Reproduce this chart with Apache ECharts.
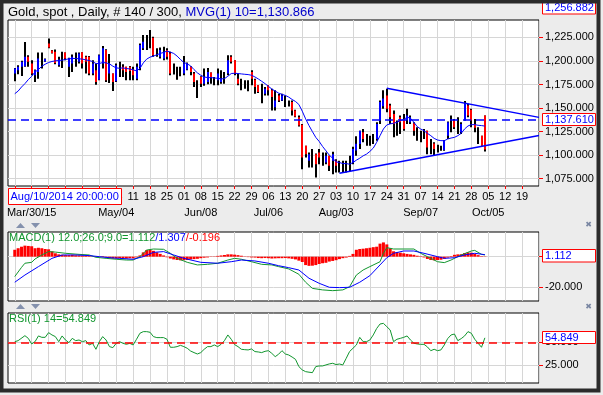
<!DOCTYPE html>
<html><head><meta charset="utf-8">
<script src="https://cdn.jsdelivr.net/npm/echarts@6/dist/echarts.min.js"></script>
<style>html,body{margin:0;padding:0;background:#ececec;}#c{width:603px;height:395px;}</style>
</head><body><div id="c"></div>
<script>
// ---------- categories: trading days (weekdays) ----------
const firstDay = '2015-03-19';
const slotCount = 158;
const categories = [];
(function () {
  const d = new Date(firstDay + 'T00:00:00Z');
  while (categories.length < slotCount) {
    const w = d.getUTCDay();
    if (w !== 0 && w !== 6) categories.push(d.toISOString().slice(0, 10));
    d.setUTCDate(d.getUTCDate() + 1);
  }
})();
const barStart = 2; // index of first bar (2015-03-23)

// ---------- price bars ----------
const barOpen = [1186.6,1190.1,1193.7,1194.4,1204.4,1197.2,1184.8,1188.3,1201.0,1199.5,1218.6,1211.0,1209.7,1195.5,1201.0,1209.0,1193.7,1197.2,1200.0,1199.0,1209.3,1204.4,1204.4,1186.6,1190.1,1180.1,1197.2,1211.5,1186.6,1186.6,1178.4,1191.0,1193.7,1193.7,1193.7,1190.8,1181.2,1193.7,1213.3,1219.0,1220.0,1224.5,1209.0,1204.4,1202.6,1211.5,1207.9,1190.0,1188.0,1189.0,1186.6,1191.0,1193.7,1186.6,1176.0,1183.0,1175.9,1177.7,1187.6,1179.0,1179.4,1177.7,1180.0,1186.6,1204.4,1200.8,1181.2,1176.0,1175.0,1174.0,1188.3,1180.1,1174.1,1168.0,1165.2,1174.1,1168.8,1150.9,1163.4,1158.0,1157.0,1155.0,1156.3,1147.4,1140.3,1132.4,1110.0,1094.0,1097.0,1101.1,1102.9,1096.0,1092.2,1099.3,1094.0,1094.0,1090.0,1090.0,1088.0,1092.0,1092.2,1105.0,1111.8,1124.3,1117.0,1115.0,1116.0,1117.1,1136.7,1152.0,1163.4,1152.7,1143.8,1130.0,1140.3,1138.5,1136.7,1134.9,1133.9,1123.0,1120.0,1122.0,1126.0,1108.0,1112.5,1106.0,1107.0,1105.4,1120.7,1130.0,1136.7,1131.0,1124.3,1136.7,1152.7,1148.1,1133.0,1120.0,1120.7,1142.0];
const barHigh = [1192.6,1195.5,1200.1,1220.0,1206.1,1200.8,1190.8,1209.0,1209.0,1202.6,1223.9,1211.5,1212.2,1204.4,1209.7,1209.0,1203.3,1206.8,1209.0,1209.0,1209.3,1205.4,1205.1,1200.8,1197.2,1206.8,1215.7,1212.5,1207.2,1186.6,1197.2,1199.0,1196.5,1193.7,1194.7,1193.7,1197.2,1218.6,1227.5,1227.5,1232.8,1225.7,1213.3,1214.3,1215.0,1213.3,1209.7,1197.2,1193.7,1193.7,1205.1,1198.3,1194.4,1188.3,1179.4,1183.7,1191.9,1192.6,1187.6,1183.0,1191.9,1190.1,1188.3,1206.1,1206.1,1200.8,1186.6,1181.2,1179.4,1179.4,1190.1,1181.2,1174.1,1175.9,1172.3,1174.1,1170.5,1168.8,1165.2,1165.2,1163.4,1158.0,1158.0,1148.1,1142.0,1133.2,1110.0,1102.9,1106.5,1101.8,1106.5,1102.9,1102.9,1099.3,1103.6,1095.8,1094.0,1094.0,1094.0,1099.3,1108.9,1120.0,1126.0,1127.8,1122.5,1120.7,1122.5,1134.9,1158.0,1168.8,1170.5,1154.5,1147.4,1136.7,1142.0,1143.8,1149.2,1142.0,1134.9,1129.6,1126.0,1127.8,1126.0,1117.1,1113.6,1111.0,1110.0,1116.1,1135.6,1142.0,1138.5,1140.3,1134.9,1157.4,1154.5,1149.2,1138.5,1129.6,1120.7,1142.0];
const barLow = [1178.4,1185.8,1184.1,1193.7,1193.7,1184.8,1177.7,1181.2,1191.9,1199.0,1213.3,1207.9,1196.5,1193.7,1192.6,1200.8,1183.0,1188.3,1193.7,1197.2,1191.9,1186.6,1184.8,1184.8,1174.8,1179.4,1191.9,1177.7,1176.6,1168.0,1177.7,1183.0,1183.0,1179.4,1179.4,1179.4,1179.4,1190.1,1211.5,1211.5,1213.3,1204.4,1204.4,1202.6,1200.8,1201.5,1184.8,1185.5,1180.1,1183.7,1184.8,1190.1,1184.8,1172.3,1160.6,1172.3,1173.7,1175.2,1175.9,1174.1,1174.1,1175.9,1175.9,1184.8,1197.2,1184.8,1174.1,1168.8,1170.5,1167.7,1174.1,1165.2,1165.9,1155.2,1163.4,1163.4,1147.4,1147.4,1156.3,1157.4,1151.0,1151.7,1142.0,1140.3,1130.3,1085.1,1097.6,1086.9,1086.9,1076.2,1090.4,1088.7,1090.4,1083.3,1079.8,1081.5,1081.5,1081.5,1081.5,1083.3,1090.4,1099.3,1106.5,1113.6,1110.0,1110.0,1111.8,1115.4,1133.2,1149.2,1145.6,1133.2,1118.9,1120.7,1122.5,1126.0,1133.2,1133.2,1120.7,1115.4,1113.6,1117.1,1101.1,1101.1,1099.3,1102.9,1104.7,1104.7,1117.1,1124.3,1127.8,1122.5,1122.5,1136.7,1140.3,1129.6,1124.3,1111.8,1110.0,1104.0];
const barClose = [1191.9,1193.7,1199.0,1204.4,1199.0,1186.6,1190.1,1202.6,1201.0,1202.0,1214.3,1208.5,1197.9,1201.5,1201.0,1202.6,1202.6,1204.4,1200.0,1207.9,1197.2,1199.0,1186.6,1197.2,1177.7,1206.1,1213.3,1179.4,1197.2,1177.7,1195.5,1191.0,1190.1,1188.3,1189.4,1184.8,1193.7,1216.8,1220.4,1219.0,1220.0,1206.1,1209.0,1211.5,1209.7,1204.4,1186.6,1190.0,1188.0,1189.0,1197.2,1197.0,1188.3,1177.7,1176.0,1175.9,1183.0,1188.3,1183.0,1179.0,1186.6,1181.2,1180.0,1200.8,1199.0,1186.6,1175.9,1176.0,1175.0,1174.0,1181.2,1172.3,1167.0,1168.0,1170.5,1168.8,1161.6,1158.0,1158.0,1163.4,1157.0,1155.0,1147.4,1141.0,1131.4,1097.6,1101.1,1101.1,1097.0,1090.4,1097.6,1096.0,1099.3,1088.7,1101.1,1088.7,1090.0,1090.0,1088.0,1092.0,1106.5,1112.0,1126.0,1117.1,1117.0,1115.0,1116.0,1133.2,1156.3,1160.0,1149.2,1140.3,1133.2,1130.0,1134.9,1127.8,1142.0,1140.3,1126.0,1123.0,1120.0,1122.0,1108.2,1108.0,1106.5,1106.0,1107.0,1115.4,1134.9,1130.0,1129.6,1131.0,1133.2,1154.5,1142.0,1136.7,1129.0,1120.0,1110.0,1106.0];
const ma10 = [1165.2,1168.0,1172.3,1175.9,1180.1,1183.7,1188.3,1190.8,1194.4,1196.5,1198.3,1199.4,1200.1,1200.4,1200.8,1201.5,1202.2,1202.6,1202.6,1202.2,1201.9,1201.1,1200.4,1199.4,1197.2,1197.2,1198.3,1197.9,1196.9,1194.4,1192.6,1192.2,1192.6,1191.9,1191.5,1190.5,1189.4,1191.9,1197.9,1201.9,1204.0,1205.1,1206.5,1207.9,1209.0,1210.4,1209.3,1207.9,1205.1,1201.5,1198.3,1196.9,1194.7,1190.8,1187.3,1184.8,1183.0,1182.3,1182.3,1181.9,1181.6,1180.9,1181.2,1183.7,1186.6,1186.9,1186.6,1186.2,1185.8,1185.5,1184.8,1183.0,1180.9,1178.4,1175.9,1173.0,1170.2,1168.0,1165.9,1164.5,1163.4,1161.6,1159.1,1157.0,1153.8,1146.7,1138.5,1131.4,1125.0,1118.9,1114.6,1109.3,1104.7,1100.0,1096.8,1092.9,1092.2,1091.1,1091.1,1090.4,1092.2,1094.7,1096.8,1099.3,1101.1,1104.0,1107.5,1113.6,1120.7,1127.8,1132.1,1133.2,1133.9,1134.9,1136.7,1137.8,1140.3,1139.2,1134.9,1130.3,1127.8,1126.0,1123.2,1120.7,1117.8,1116.1,1115.4,1115.4,1117.1,1118.2,1118.9,1120.7,1123.2,1127.8,1131.0,1132.4,1132.4,1131.7,1131.4,1130.866];
const lastPrice = 1137.61;
const maLast = 1130.866;
const topPrice = 1256.882;
const upperTrend = [['2015-08-24', 1170.9], ['2015-10-26', 1140.1]];
const lowerTrend = [['2015-08-04', 1080.8], ['2015-10-26', 1120.8]];

// ---------- MACD ----------
const macdHist = [4.5,5.5,6.5,7.2,7.0,6.8,5.5,5.8,5.5,5.0,4.8,3.5,2.2,1.5,1.2,1.0,1.0,1.2,0.9,0.8,0.7,0.5,0.4,0.2,-0.3,0.2,0.4,-0.5,-0.9,-1.2,-1.2,-1.0,-1.1,-1.2,-1.0,-1.1,-0.5,0.8,2.8,4.3,4.5,3.8,2.8,1.8,0.8,-0.4,-1.2,-1.8,-2.2,-2.4,-2.3,-2.2,-1.8,-1.6,-1.4,-1.0,-0.7,-0.5,-0.2,0.2,0.5,0.8,1.1,1.5,1.5,1.3,1.0,0.6,0.2,-0.3,-0.5,-0.6,-0.9,-1.0,-0.9,-1.0,-1.2,-1.1,-1.0,-1.0,-0.9,-1.1,-1.4,-1.8,-2.6,-3.5,-5.5,-6.0,-5.9,-5.5,-4.8,-4.3,-4.0,-3.2,-2.8,-2.3,-1.6,-1.0,-0.6,0.5,1.8,4.5,5.0,5.2,5.5,5.8,6.2,6.5,8.5,9.3,8.0,5.5,3.5,3.0,2.6,2.2,1.8,1.5,1.2,0.6,0.3,-0.5,-1.5,-2.2,-2.4,-2.2,-2.0,-1.4,-0.6,0.4,1.2,1.5,1.6,2.4,2.8,2.6,1.8,1.0,0.3,-0.196];
const macdLine = [[2,-13.0],[4,-7.0],[5,-4.3],[7,-3.7],[8,-1.5],[10,1.1],[12,3.3],[14,3.0],[17,2.2],[21,1.5],[24,1.1],[26,-0.4],[29,-1.1],[32,-1.7],[35,-2.2],[37,-2.2],[39,0],[41,4.3],[43,5.0],[46,4.8],[48,2.2],[50,-1.1],[53,-3.7],[56,-5.4],[59,-5.0],[62,-4.3],[65,-2.2],[67,-1.1],[69,-1.7],[72,-3.3],[75,-5.0],[78,-5.4],[80,-6.5],[83,-8.0],[86,-11.5],[88,-16.7],[90,-20.7],[93,-21.7],[96,-22.2],[99,-21.7],[101,-19.6],[103,-12.0],[105,-8.7],[107,-6.5],[110,-3.3],[111,2.2],[112,5.9],[114,5.0],[117,5.0],[120,5.0],[122,2.2],[124,0],[127,-3.3],[129,-3.9],[131,-2.2],[134,1.1],[137,3.7],[138,4.1],[140,1.5],[141,1.112]];
const signalLine = [[2,-16.7],[5,-12.0],[9,-6.5],[13,-1.1],[16,1.1],[20,1.1],[24,0.7],[27,0],[30,-0.7],[33,-1.1],[37,-1.7],[40,0],[43,2.8],[46,3.3],[49,1.1],[52,-1.1],[57,-3.7],[62,-4.3],[66,-3.3],[69,-2.2],[73,-2.8],[77,-4.3],[80,-5.9],[83,-7.2],[86,-8.7],[89,-14.1],[92,-17.4],[95,-20.0],[98,-20.2],[101,-20.0],[104,-16.7],[107,-12.4],[110,-5.4],[112,-0.7],[114,2.2],[117,3.7],[120,3.7],[123,2.2],[127,0],[129,-1.1],[132,-0.7],[135,1.1],[138,2.2],[141,1.307]];

// ---------- RSI ----------
const rsiLine = [[2,50.7],[3,51.8],[5,57.2],[6,54.3],[7,48.2],[8,50.7],[9,56.9],[10,55.4],[11,55.4],[12,60.5],[13,58],[14,56.2],[15,50.7],[16,56.9],[17,52.5],[18,49.6],[19,54.3],[20,51.8],[21,52.5],[22,50.7],[23,51.8],[24,47.1],[25,48.9],[26,42.4],[27,50.7],[28,56.2],[29,52.5],[30,45.3],[31,44.2],[32,48.9],[33,50.7],[34,48.9],[35,47.8],[36,48.9],[37,47.1],[38,53.3],[39,59.8],[40,61.6],[41,61.6],[42,60.9],[43,56.2],[44,55.1],[45,55.1],[46,55.1],[47,53.3],[48,44.6],[49,44.6],[50,45.3],[51,46.7],[52,45.3],[53,43.5],[54,40.5],[55,38.8],[56,37.3],[57,38.8],[58,42.4],[59,45.3],[60,45.3],[61,47.1],[62,45.3],[63,47.8],[64,51.8],[65,58],[66,53.3],[67,47.5],[68,45.3],[69,42.4],[70,42.0],[71,41.7],[72,42.8],[73,39.9],[74,39.5],[75,38.8],[76,40.2],[77,40.9],[78,38],[79,34.4],[80,37],[81,40.9],[82,37.3],[83,36.2],[84,34],[85,31.5],[86,23.6],[87,20.0],[88,18.1],[89,17.5],[90,17],[91,23.6],[92,24.3],[93,24.3],[94,25.4],[95,26.5],[96,27.2],[97,25.8],[98,26.4],[99,25.4],[100,32.6],[101,40],[102,43.5],[103,47.1],[104,55.4],[105,50.7],[106,50.7],[107,52.5],[108,58],[109,65],[110,69.9],[111,70.6],[112,67],[113,63.4],[114,50.7],[115,53.3],[116,54.3],[117,55.4],[118,56.9],[119,52.5],[120,49],[121,48.2],[122,47.8],[123,47.8],[124,45],[125,40.9],[126,42.4],[127,40.9],[128,41.7],[129,47.1],[130,54],[131,58],[132,59],[133,51.8],[134,54],[135,56.9],[136,61.6],[137,59.8],[138,53.3],[139,49],[140,44.6],[141,54.849]];

// ---------- tick labels ----------
const priceTicks = [1075,1100,1125,1150,1175,1200,1225];
const macdTicks = [-20, 0];
const macdLabels = [-20];
const rsiTicks = [25, 50];
const monthLabels = {'2015-03-30':'Mar/30/15','2015-05-04':'May/04','2015-06-08':'Jun/08','2015-07-06':'Jul/06','2015-08-03':'Aug/03','2015-09-07':'Sep/07','2015-10-05':'Oct/05'};
const cursorLabel = 'Aug/10/2014 20:00:00';

// ---------- helpers ----------
const FONT = '"Liberation Sans", Arial, sans-serif';
const GRIDC = '#d6d6d6';
const BLUE = '#0000ff', RED = '#ff0000', GREEN = '#11962e';
function fmt3(v) {
  const s = Math.abs(v).toFixed(3).split('.');
  return (v < 0 ? '-' : '') + s[0].replace(/\B(?=(\d{3})+(?!\d))/g, ',') + '.' + s[1];
}
const isMonday = (i, v) => new Date(v + 'T00:00:00Z').getUTCDay() === 1;
const isInnerMonday = (i, v) => i < slotCount - 1 && isMonday(i, v);

const candleData = barOpen.map((o, k) => [barStart + k, o, barHigh[k], barLow[k], barClose[k]]);
const maData = ma10.map((v, k) => [barStart + k, v]);
const histData = macdHist.map((v, k) => [barStart + k, v]);

const grids = [
  {left: 8, top: 20, width: 531, height: 166},
  {left: 8, top: 232, width: 531, height: 69},
  {left: 8, top: 313, width: 531, height: 70}
].map(g => Object.assign(g, {show: true, backgroundColor: '#fff', borderColor: '#000', borderWidth: 1, containLabel: false}));

function baseX(gi, extra) {
  return Object.assign({
    type: 'category', gridIndex: gi, data: categories, boundaryGap: false, position: 'bottom',
    axisLine: {show: false}, axisTick: {show: false}, axisLabel: {show: false},
    splitLine: {show: true, interval: isMonday, lineStyle: {color: GRIDC, width: 1}}
  }, extra || {});
}

const chart = echarts.init(document.getElementById('c'), null, {renderer: 'canvas'});
chart.setOption({
  animation: false,
  backgroundColor: '#ececec',
  grid: grids,
  xAxis: [
    baseX(0, {
      axisTick: {show: true, interval: isInnerMonday, length: 3, lineStyle: {color: RED}},
      axisLabel: {show: true, interval: isInnerMonday, formatter: v => v.slice(8, 10), margin: 5,
        fontSize: 11, fontFamily: FONT, color: '#000'}
    }),
    baseX(0, {
      position: 'bottom', offset: 0,
      splitLine: {show: false},
      axisLabel: {show: true, interval: (i, v) => !!monthLabels[v], formatter: v => monthLabels[v] || '',
        margin: 21, fontSize: 11, fontFamily: FONT, color: '#000'}
    }),
    baseX(1),
    baseX(2)
  ],
  yAxis: [
    {type: 'value', gridIndex: 0, position: 'right', min: 1067.3, max: 1243.4,
      axisLine: {show: false},
      axisTick: {show: true, customValues: priceTicks, length: 4, lineStyle: {color: RED}},
      axisLabel: {show: true, customValues: priceTicks, formatter: fmt3, margin: 6, fontSize: 11, fontFamily: FONT, color: '#000'},
      splitLine: {show: true, lineStyle: {color: GRIDC}}},
    {type: 'value', gridIndex: 1, position: 'right', min: -28.95, max: 16.1,
      axisLine: {show: false},
      axisTick: {show: true, customValues: macdTicks, length: 4, lineStyle: {color: RED}},
      axisLabel: {show: true, customValues: macdLabels, formatter: fmt3, margin: 6, fontSize: 11, fontFamily: FONT, color: '#000'},
      splitLine: {show: true, lineStyle: {color: GRIDC}}},
    {type: 'value', gridIndex: 2, position: 'right', min: 5.76, max: 81.85,
      axisLine: {show: false},
      axisTick: {show: true, customValues: rsiTicks, length: 4, lineStyle: {color: RED}},
      axisLabel: {show: true, customValues: rsiTicks, formatter: fmt3, margin: 6, fontSize: 11, fontFamily: FONT, color: '#000'},
      splitLine: {show: true, lineStyle: {color: GRIDC}}}
  ],
  series: [
    {
      type: 'custom', xAxisIndex: 0, yAxisIndex: 0, data: candleData, clip: true, z: 3,
      encode: {x: 0, y: [1, 2, 3, 4]},
      renderItem: function (params, api) {
        const i = api.value(0), o = api.value(1), h = api.value(2), l = api.value(3), c = api.value(4);
        const pH = api.coord([i, h]), pL = api.coord([i, l]), pO = api.coord([i, o]), pC = api.coord([i, c]);
        const px = Math.round(pH[0]) - 1;
        const kids = [{type: 'rect', shape: {x: px, y: pH[1], width: 2, height: Math.max(1, pL[1] - pH[1])}, style: {fill: '#000'}}];
        if (c !== o) {
          kids.push({type: 'rect', shape: {x: px, y: Math.min(pO[1], pC[1]), width: 2, height: Math.max(1, Math.abs(pC[1] - pO[1]))},
            style: {fill: c > o ? BLUE : RED}});
        }
        return {type: 'group', children: kids};
      }
    },
    {
      type: 'line', xAxisIndex: 0, yAxisIndex: 0, data: maData, symbol: 'none', z: 4,
      lineStyle: {color: BLUE, width: 1}, silent: true,
      markLine: {
        silent: true, symbol: 'none', label: {show: false}, animation: false,
        data: [
          {yAxis: lastPrice, lineStyle: {color: BLUE, width: 1.5, type: [8, 5]}},
          [{coord: upperTrend[0], lineStyle: {color: BLUE, width: 1.5, type: 'solid'}}, {coord: upperTrend[1]}],
          [{coord: lowerTrend[0], lineStyle: {color: BLUE, width: 1.5, type: 'solid'}}, {coord: lowerTrend[1]}]
        ]
      }
    },
    {type: 'bar', xAxisIndex: 2, yAxisIndex: 1, data: histData, barWidth: 3, itemStyle: {color: RED}, silent: true},
    {type: 'line', xAxisIndex: 2, yAxisIndex: 1, data: macdLine, symbol: 'none', lineStyle: {color: GREEN, width: 1}, silent: true, z: 4},
    {type: 'line', xAxisIndex: 2, yAxisIndex: 1, data: signalLine, symbol: 'none', lineStyle: {color: BLUE, width: 1}, silent: true, z: 4},
    {type: 'line', xAxisIndex: 3, yAxisIndex: 2, data: rsiLine, symbol: 'none', lineStyle: {color: GREEN, width: 1}, silent: true, z: 4,
      markLine: {silent: true, symbol: 'none', label: {show: false},
        data: [{yAxis: 50, lineStyle: {color: RED, width: 1.5, type: [8, 5]}}]}}
  ],
  graphic: [
    // window frame
    {type: 'rect', z: 100, shape: {x: 1.5, y: 1.5, width: 597, height: 389}, style: {fill: null, stroke: '#2b2b2b', lineWidth: 4}},
    // header
    {type: 'text', z: 50, x: 8, y: 12.5, style: {text: '{a|Gold, spot , Daily, # 140 / 300, }{b|MVG(1) 10=' + fmt3(maLast) + '}',
      verticalAlign: 'middle', font: '13px ' + FONT,
      rich: {a: {fill: '#000', font: '13px ' + FONT}, b: {fill: '#0000cc', font: '13px ' + FONT}}}},
    // top right box
    {type: 'rect', z: 50, shape: {x: 542.5, y: 1, width: 53, height: 13}, style: {fill: '#fff', stroke: RED, lineWidth: 1}},
    {type: 'text', z: 51, x: 545, y: 8, style: {text: fmt3(topPrice), fill: BLUE, font: '11px ' + FONT, verticalAlign: 'middle'}},
    // last price box
    {type: 'rect', z: 50, shape: {x: 542.5, y: 113.5, width: 53, height: 12}, style: {fill: '#fff', stroke: RED, lineWidth: 1}},
    {type: 'text', z: 51, x: 545, y: 119.8, style: {text: fmt3(lastPrice), fill: BLUE, font: '11px ' + FONT, verticalAlign: 'middle'}},
    // cursor date box
    {type: 'rect', z: 50, shape: {x: 8.5, y: 188.5, width: 113, height: 16}, style: {fill: '#fff', stroke: RED, lineWidth: 1}},
    {type: 'text', z: 51, x: 10.5, y: 196.8, style: {text: cursorLabel, fill: BLUE, font: '11px ' + FONT, verticalAlign: 'middle'}},
    // MACD title and box
    {type: 'text', z: 50, x: 9, y: 238, style: {
      text: '{g|MACD(1) 12.0;26.0;9.0=1.112}{b|/1.307}{r|/-0.196}', verticalAlign: 'middle', font: '11px ' + FONT,
      rich: {g: {fill: GREEN, font: '11px ' + FONT}, b: {fill: BLUE, font: '11px ' + FONT}, r: {fill: RED, font: '11px ' + FONT}}}},
    {type: 'rect', z: 50, shape: {x: 542.5, y: 249.5, width: 53, height: 12.5}, style: {fill: '#fff', stroke: RED, lineWidth: 1}},
    {type: 'text', z: 51, x: 545, y: 256, style: {text: '1.112', fill: BLUE, font: '11px ' + FONT, verticalAlign: 'middle'}},
    // RSI title and box
    {type: 'text', z: 50, x: 9, y: 319, style: {text: 'RSI(1) 14=54.849', fill: GREEN, font: '11px ' + FONT, verticalAlign: 'middle'}},
    {type: 'rect', z: 50, shape: {x: 542.5, y: 331.5, width: 53, height: 12}, style: {fill: '#fff', stroke: RED, lineWidth: 1}},
    {type: 'text', z: 51, x: 545, y: 337.8, style: {text: '54.849', fill: BLUE, font: '11px ' + FONT, verticalAlign: 'middle'}},
    // panel arrows
    {type: 'polygon', z: 50, shape: {points: [[16, 228], [20.5, 223], [25, 228]]}, style: {fill: '#8491ad'}},
    {type: 'polygon', z: 50, shape: {points: [[31, 223], [40, 223], [35.5, 228]]}, style: {fill: '#8491ad'}},
    {type: 'polygon', z: 50, shape: {points: [[16, 309], [20.5, 304], [25, 309]]}, style: {fill: '#8491ad'}},
    {type: 'polygon', z: 50, shape: {points: [[31, 304], [40, 304], [35.5, 309]]}, style: {fill: '#8491ad'}},
    // close icons
    {type: 'text', z: 50, x: 588.5, y: 225, style: {text: '\u2716', fill: '#7a87a3', font: 'bold 8px "DejaVu Sans"', align: 'center', verticalAlign: 'middle'}},
    {type: 'text', z: 50, x: 588.5, y: 306.5, style: {text: '\u2716', fill: '#7a87a3', font: 'bold 8px "DejaVu Sans"', align: 'center', verticalAlign: 'middle'}}
  ]
});
</script>
</body></html>
